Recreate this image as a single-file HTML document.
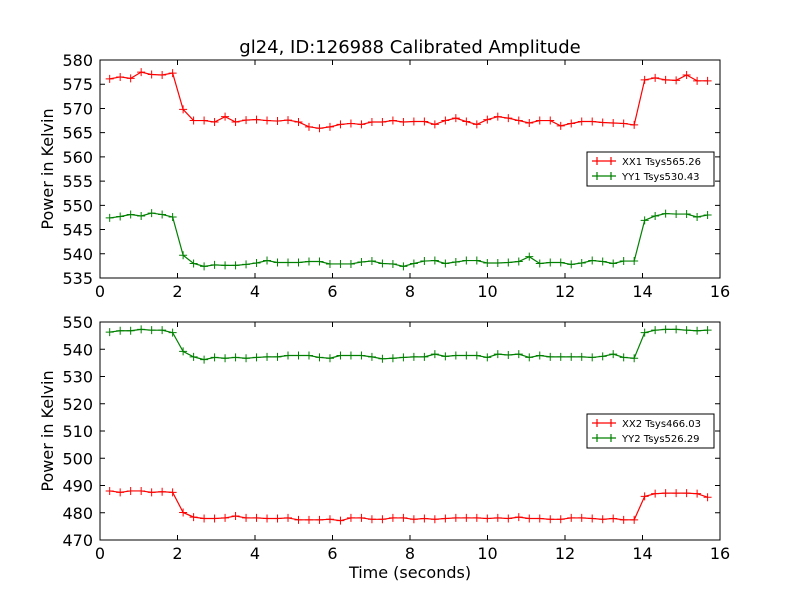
<!DOCTYPE html>
<html><head><meta charset="utf-8"><style>
body{margin:0;background:#fff;}
svg{display:block;font-family:"DejaVu Sans","Liberation Sans",sans-serif;}
</style></head><body>
<svg id="chart" width="800" height="600" viewBox="0 0 800 600">
<rect width="800" height="600" fill="#fff"/>
<text x="410" y="53" font-size="18" text-anchor="middle">gl24, ID:126988 Calibrated Amplitude</text>
<text x="410" y="578" font-size="16" text-anchor="middle">Time (seconds)</text>
</svg>
<script>
const xx1High1=[576.1,576.5,576.2,577.5,577.0,576.9,577.3];
const xx1Low=[569.8,567.5,567.5,567.2,568.3,567.2,567.6,567.7,567.5,567.4,567.6,567.2,566.2,565.9,566.2,566.7,566.9,566.7,567.2,567.2,567.5,567.2,567.3,567.3,566.7,567.5,568.0,567.3,566.7,567.7,568.3,568.0,567.5,567.0,567.5,567.5,566.4,566.9,567.3,567.3,567.1,567.0,566.9,566.6];
const xx1High2=[575.9,576.3,575.9,575.8,576.9,575.7,575.7];
const yy1High1=[547.4,547.7,548.1,547.8,548.4,548.1,547.6];
const yy1Low=[539.7,538.0,537.4,537.7,537.6,537.6,537.8,538.1,538.6,538.2,538.2,538.2,538.4,538.4,537.9,537.9,537.9,538.3,538.5,538.0,537.9,537.4,538.0,538.5,538.6,538.0,538.3,538.6,538.6,538.1,538.1,538.2,538.4,539.4,538.0,538.2,538.2,537.8,538.1,538.6,538.4,538.0,538.5,538.5];
const yy1High2=[546.9,547.8,548.3,548.2,548.2,547.6,548.0];
const yy2High1=[546.3,546.8,546.8,547.3,547.0,547.0,546.1];
const yy2Low=[539.2,537.2,536.2,537.0,536.7,537.0,536.7,537.0,537.2,537.2,537.7,537.7,537.7,537.0,536.7,537.7,537.7,537.7,537.2,536.5,536.7,537.0,537.2,537.2,538.2,537.4,537.7,537.7,537.7,537.0,538.2,537.9,538.2,537.0,537.7,537.2,537.2,537.2,537.2,537.0,537.4,538.2,537.0,536.7];
const yy2High2=[546.1,547.0,547.3,547.3,547.0,546.8,547.0];
const xx2High1=[488.0,487.5,488.0,488.0,487.5,487.7,487.5];
const xx2Low=[480.1,478.4,477.9,477.9,478.1,478.8,478.1,478.1,477.9,477.9,478.1,477.4,477.4,477.4,477.6,477.1,478.1,478.1,477.6,477.6,478.1,478.1,477.6,477.9,477.6,477.9,478.1,478.1,478.1,477.9,478.1,477.9,478.4,477.9,477.9,477.6,477.6,478.1,478.1,477.9,477.6,477.9,477.4,477.4];
const xx2High2=[486.0,487.0,487.2,487.2,487.2,487.0,485.7];
const tStart=0.25, tStep=0.2707;
const xTicks=[0,2,4,6,8,10,12,14,16];
const yTicksTop=[535,540,545,550,555,560,565,570,575,580];
const yTicksBot=[470,480,490,500,510,520,530,540,550];

const svg=document.getElementById('chart');
const NS='http://www.w3.org/2000/svg';
function mk(tag,attrs,parent){const e=document.createElementNS(NS,tag);for(const k in attrs)e.setAttribute(k,attrs[k]);(parent||svg).appendChild(e);return e;}

function panel(name,top,bottom,ymin,ymax,yTicks,series,legend){
  const L=100,R=720;
  const g=mk('g',{});
  
  
  const sx=v=>L+(v-0)/(16-0)*(R-L);
  const sy=v=>bottom-(v-ymin)/(ymax-ymin)*(bottom-top);
  series.forEach(s=>{
    const vals=s.values;
    const pts=vals.map((v,i)=>[sx(tStart+i*tStep),sy(v)]);
    const sg=mk('g',{},g);
    
    
    const pl=mk('polyline',{points:pts.map(p=>p.join(',')).join(' '),fill:'none',stroke:s.color,'stroke-width':1.2},sg);
    
    
    pts.forEach(p=>{
      const m=mk('path',{d:`M${p[0]-4},${p[1]}h8M${p[0]},${p[1]-4}v8`,stroke:s.color,'stroke-width':1},sg);
      
      
    });
  });
  const frame=mk('rect',{x:L,y:top,width:R-L,height:bottom-top,fill:'none',stroke:'#000','stroke-width':1},g);
  
  
  xTicks.forEach(t=>{
    const x=sx(t);
    mk('path',{d:`M${x},${bottom}v-5M${x},${top}v5`,stroke:'#000','stroke-width':1},g);
    const lb=mk('text',{x:x,y:bottom+19,'font-size':16,'text-anchor':'middle'},g);
    lb.textContent=t;
    
    
  });
  yTicks.forEach(t=>{
    const y=sy(t);
    mk('path',{d:`M${L},${y}h5M${R},${y}h-5`,stroke:'#000','stroke-width':1},g);
    const lb=mk('text',{x:L-7,y:y+6,'font-size':16,'text-anchor':'end'},g);
    lb.textContent=t;
    
    
  });
  const yt=mk('text',{x:53,y:(top+bottom)/2,'font-size':16,'text-anchor':'middle',transform:`rotate(-90 53 ${(top+bottom)/2})`},g);
  yt.textContent='Power in Kelvin';
  
  
  const lg=mk('g',{},g);
  
  
  mk('rect',{x:587,y:legend.y,width:127,height:34,fill:'#fff',stroke:'#000','stroke-width':1},lg);
  legend.items.forEach((it,i)=>{
    const y=legend.y+9+i*15;
    const e=mk('g',{},lg);
    
    
    mk('path',{d:`M592,${y}h24M${597},${y-4}v8M${611},${y-4}v8`,stroke:it.color,'stroke-width':1.2},e);
    const tx=mk('text',{x:622,y:y+4,'font-size':10},e);
    tx.textContent=it.label;
  });
}
panel('top-panel',60,278,535,580,yTicksTop,[
  {name:'xx1-series',color:'#ff0000',values:[...xx1High1,...xx1Low,...xx1High2]},
  {name:'yy1-series',color:'#008000',values:[...yy1High1,...yy1Low,...yy1High2]}
],{y:152,items:[{label:'XX1 Tsys565.26',color:'#ff0000'},{label:'YY1 Tsys530.43',color:'#008000'}]});
panel('bottom-panel',322,540,470,550,yTicksBot,[
  {name:'xx2-series',color:'#ff0000',values:[...xx2High1,...xx2Low,...xx2High2]},
  {name:'yy2-series',color:'#008000',values:[...yy2High1,...yy2Low,...yy2High2]}
],{y:414,items:[{label:'XX2 Tsys466.03',color:'#ff0000'},{label:'YY2 Tsys526.29',color:'#008000'}]});
</script>
</body></html>
